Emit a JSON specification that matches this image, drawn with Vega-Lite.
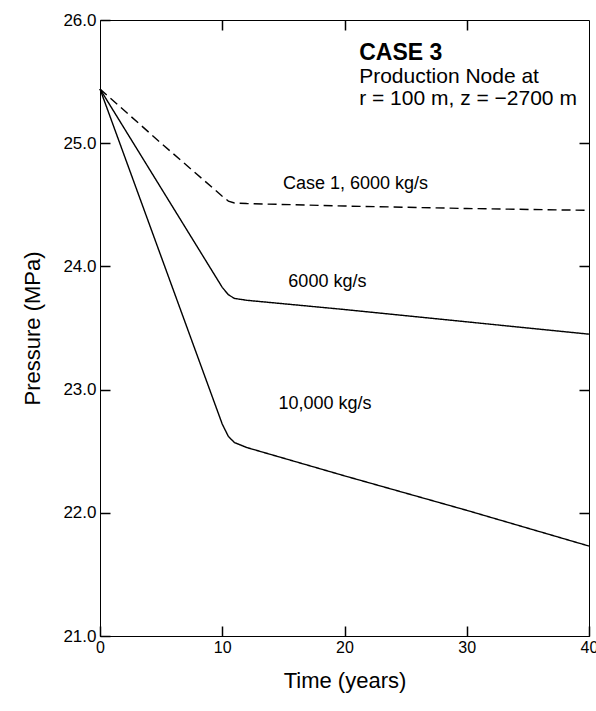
{
  "$schema": "https://vega.github.io/schema/vega-lite/v6.json",
  "width": 489,
  "height": 616,
  "autosize": {"type": "none"},
  "padding": {"left": 100, "top": 20, "right": 7, "bottom": 75},
  "background": "white",
  "config": {
    "font": "Liberation Sans",
    "view": {"stroke": "black", "strokeWidth": 1},
    "axis": {"domainColor": "black", "tickColor": "black", "labelColor": "black", "titleColor": "black", "grid": false, "titleFontWeight": "normal", "ticks": true, "tickWidth": 1.5}
  },
  "datasets": {
    "curves": [
      {"t": 0, "p": 25.44, "series": "Case 1, 6000 kg/s"},
      {"t": 5, "p": 25.0, "series": "Case 1, 6000 kg/s"},
      {"t": 10, "p": 24.57, "series": "Case 1, 6000 kg/s"},
      {"t": 10.5, "p": 24.53, "series": "Case 1, 6000 kg/s"},
      {"t": 11, "p": 24.515, "series": "Case 1, 6000 kg/s"},
      {"t": 12, "p": 24.51, "series": "Case 1, 6000 kg/s"},
      {"t": 20, "p": 24.49, "series": "Case 1, 6000 kg/s"},
      {"t": 30, "p": 24.47, "series": "Case 1, 6000 kg/s"},
      {"t": 40, "p": 24.455, "series": "Case 1, 6000 kg/s"},
      {"t": 0, "p": 25.44, "series": "6000 kg/s"},
      {"t": 10, "p": 23.83, "series": "6000 kg/s"},
      {"t": 10.5, "p": 23.77, "series": "6000 kg/s"},
      {"t": 11, "p": 23.74, "series": "6000 kg/s"},
      {"t": 12, "p": 23.725, "series": "6000 kg/s"},
      {"t": 20, "p": 23.65, "series": "6000 kg/s"},
      {"t": 30, "p": 23.55, "series": "6000 kg/s"},
      {"t": 40, "p": 23.45, "series": "6000 kg/s"},
      {"t": 0, "p": 25.44, "series": "10,000 kg/s"},
      {"t": 10, "p": 22.72, "series": "10,000 kg/s"},
      {"t": 10.5, "p": 22.62, "series": "10,000 kg/s"},
      {"t": 11, "p": 22.57, "series": "10,000 kg/s"},
      {"t": 12, "p": 22.53, "series": "10,000 kg/s"},
      {"t": 20, "p": 22.3, "series": "10,000 kg/s"},
      {"t": 30, "p": 22.02, "series": "10,000 kg/s"},
      {"t": 40, "p": 21.73, "series": "10,000 kg/s"}
    ],
    "labels": [
      {"t": 20.9, "p": 24.67, "text": "Case 1, 6000 kg/s"},
      {"t": 18.6, "p": 23.87, "text": "6000 kg/s"},
      {"t": 18.4, "p": 22.88, "text": "10,000 kg/s"}
    ],
    "title": [
      {"t": 21.2, "p": 25.675, "text": "CASE 3"}
    ],
    "note": [
      {"t": 21.2, "p": 25.49, "text": "Production Node at"},
      {"t": 21.2, "p": 25.31, "text": "r = 100 m, z = \u22122700 m"}
    ]
  },
  "resolve": {"axis": {"x": "independent", "y": "independent"}},
  "layer": [
    {
      "data": {"name": "curves"},
      "mark": {"type": "line", "color": "black", "strokeWidth": 1.4},
      "encoding": {
        "x": {"field": "t", "type": "quantitative", "scale": {"domain": [0, 40], "nice": false},
          "axis": {"orient": "bottom", "values": [0, 10, 20, 30, 40], "tickSize": -10, "labelPadding": 13, "labelFontSize": 16, "labelFlush": false, "title": "Time (years)", "titleFontSize": 22, "titlePadding": 15}},
        "y": {"field": "p", "type": "quantitative", "scale": {"domain": [21, 26], "nice": false, "zero": false},
          "axis": {"orient": "left", "values": [21, 22, 23, 24, 25, 26], "format": ".1f", "tickSize": -10, "labelPadding": 14, "labelFontSize": 17, "title": "Pressure  (MPa)", "titleFontSize": 22, "titlePadding": 18}},
        "detail": {"field": "series"},
        "strokeDash": {"field": "series", "type": "nominal", "scale": {"domain": ["Case 1, 6000 kg/s", "6000 kg/s", "10,000 kg/s"], "range": [[9, 5], [1, 0], [1, 0]]}, "legend": null}
      }
    },
    {
      "data": {"name": "labels"},
      "mark": {"type": "text", "fontSize": 18, "color": "black", "align": "center", "baseline": "middle"},
      "encoding": {
        "x": {"field": "t", "type": "quantitative", "axis": {"orient": "top", "values": [10, 20, 30], "tickSize": -10, "labels": false, "title": null, "domain": false}},
        "y": {"field": "p", "type": "quantitative", "axis": {"orient": "right", "values": [22, 23, 24, 25], "tickSize": -10, "labels": false, "title": null, "domain": false}},
        "text": {"field": "text"}
      }
    },
    {
      "data": {"name": "title"},
      "mark": {"type": "text", "fontSize": 23, "fontWeight": "bold", "color": "black", "align": "left", "baseline": "alphabetic"},
      "encoding": {
        "x": {"field": "t", "type": "quantitative", "axis": null},
        "y": {"field": "p", "type": "quantitative", "axis": null},
        "text": {"field": "text"}
      }
    },
    {
      "data": {"name": "note"},
      "mark": {"type": "text", "fontSize": 21, "color": "black", "align": "left", "baseline": "alphabetic"},
      "encoding": {
        "x": {"field": "t", "type": "quantitative", "axis": null},
        "y": {"field": "p", "type": "quantitative", "axis": null},
        "text": {"field": "text"}
      }
    }
  ]
}
